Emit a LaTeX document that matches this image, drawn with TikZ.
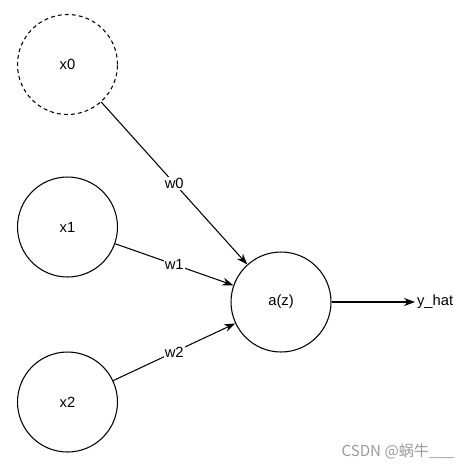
\documentclass[tikz,border=0pt]{standalone}
\usepackage{fontspec}
\setmainfont{Liberation Sans}
\newfontfamily\cjkfont{Noto Sans CJK SC}
\usetikzlibrary{arrows.meta,positioning}
\definecolor{pgrayd}{HTML}{9A9A9A}
\tikzset{
  % neuron: plain circle with centred label
  unit/.style  = {circle, draw=black, line width=0.6pt, minimum size=2cm, inner sep=0pt,
                  font=\fontsize{8.4}{10}\selectfont},
  bias/.style  = {unit, dash pattern=on 2.2pt off 1.8pt},
  wire/.style  = {-{Stealth[length=2.2mm, width=1.6mm]}, line width=0.6pt},
  wlbl/.style  = {fill=white, inner sep=0.6pt, font=\fontsize{8.4}{10}\selectfont},
  outlbl/.style = {inner sep=1pt, font=\fontsize{8.4}{10}\selectfont},
  wtmk/.style  = {font=\cjkfont\fontsize{8.6}{10}\selectfont, text=pgrayd},
}
\begin{document}
\begin{tikzpicture}[x=0.02cm,y=-0.02cm]
\useasboundingbox (0,0) rectangle (472,467);
\node[bias] (x0) at (67.5,64.5) {x0};
\node[unit] (x1) at (67.5,227) {x1};
\node[unit] (x2) at (67.5,402) {x2};
\node[unit] (az) at (281,302) {a(z)};
\node[outlbl, anchor=west] (yhat) at (415,302) {y\_hat};
% weighted inputs
\draw[wire] (x0) -- node[wlbl] {w0} (az);
\draw[wire] (x1) -- node[wlbl] {w1} (az);
\draw[wire] (x2) -- node[wlbl] {w2} (az);
\draw[wire] (az) -- (yhat);
\node[wtmk] (wm) at (398,451) {CSDN @蜗牛\_\_\_};
\end{tikzpicture}
\end{document}
